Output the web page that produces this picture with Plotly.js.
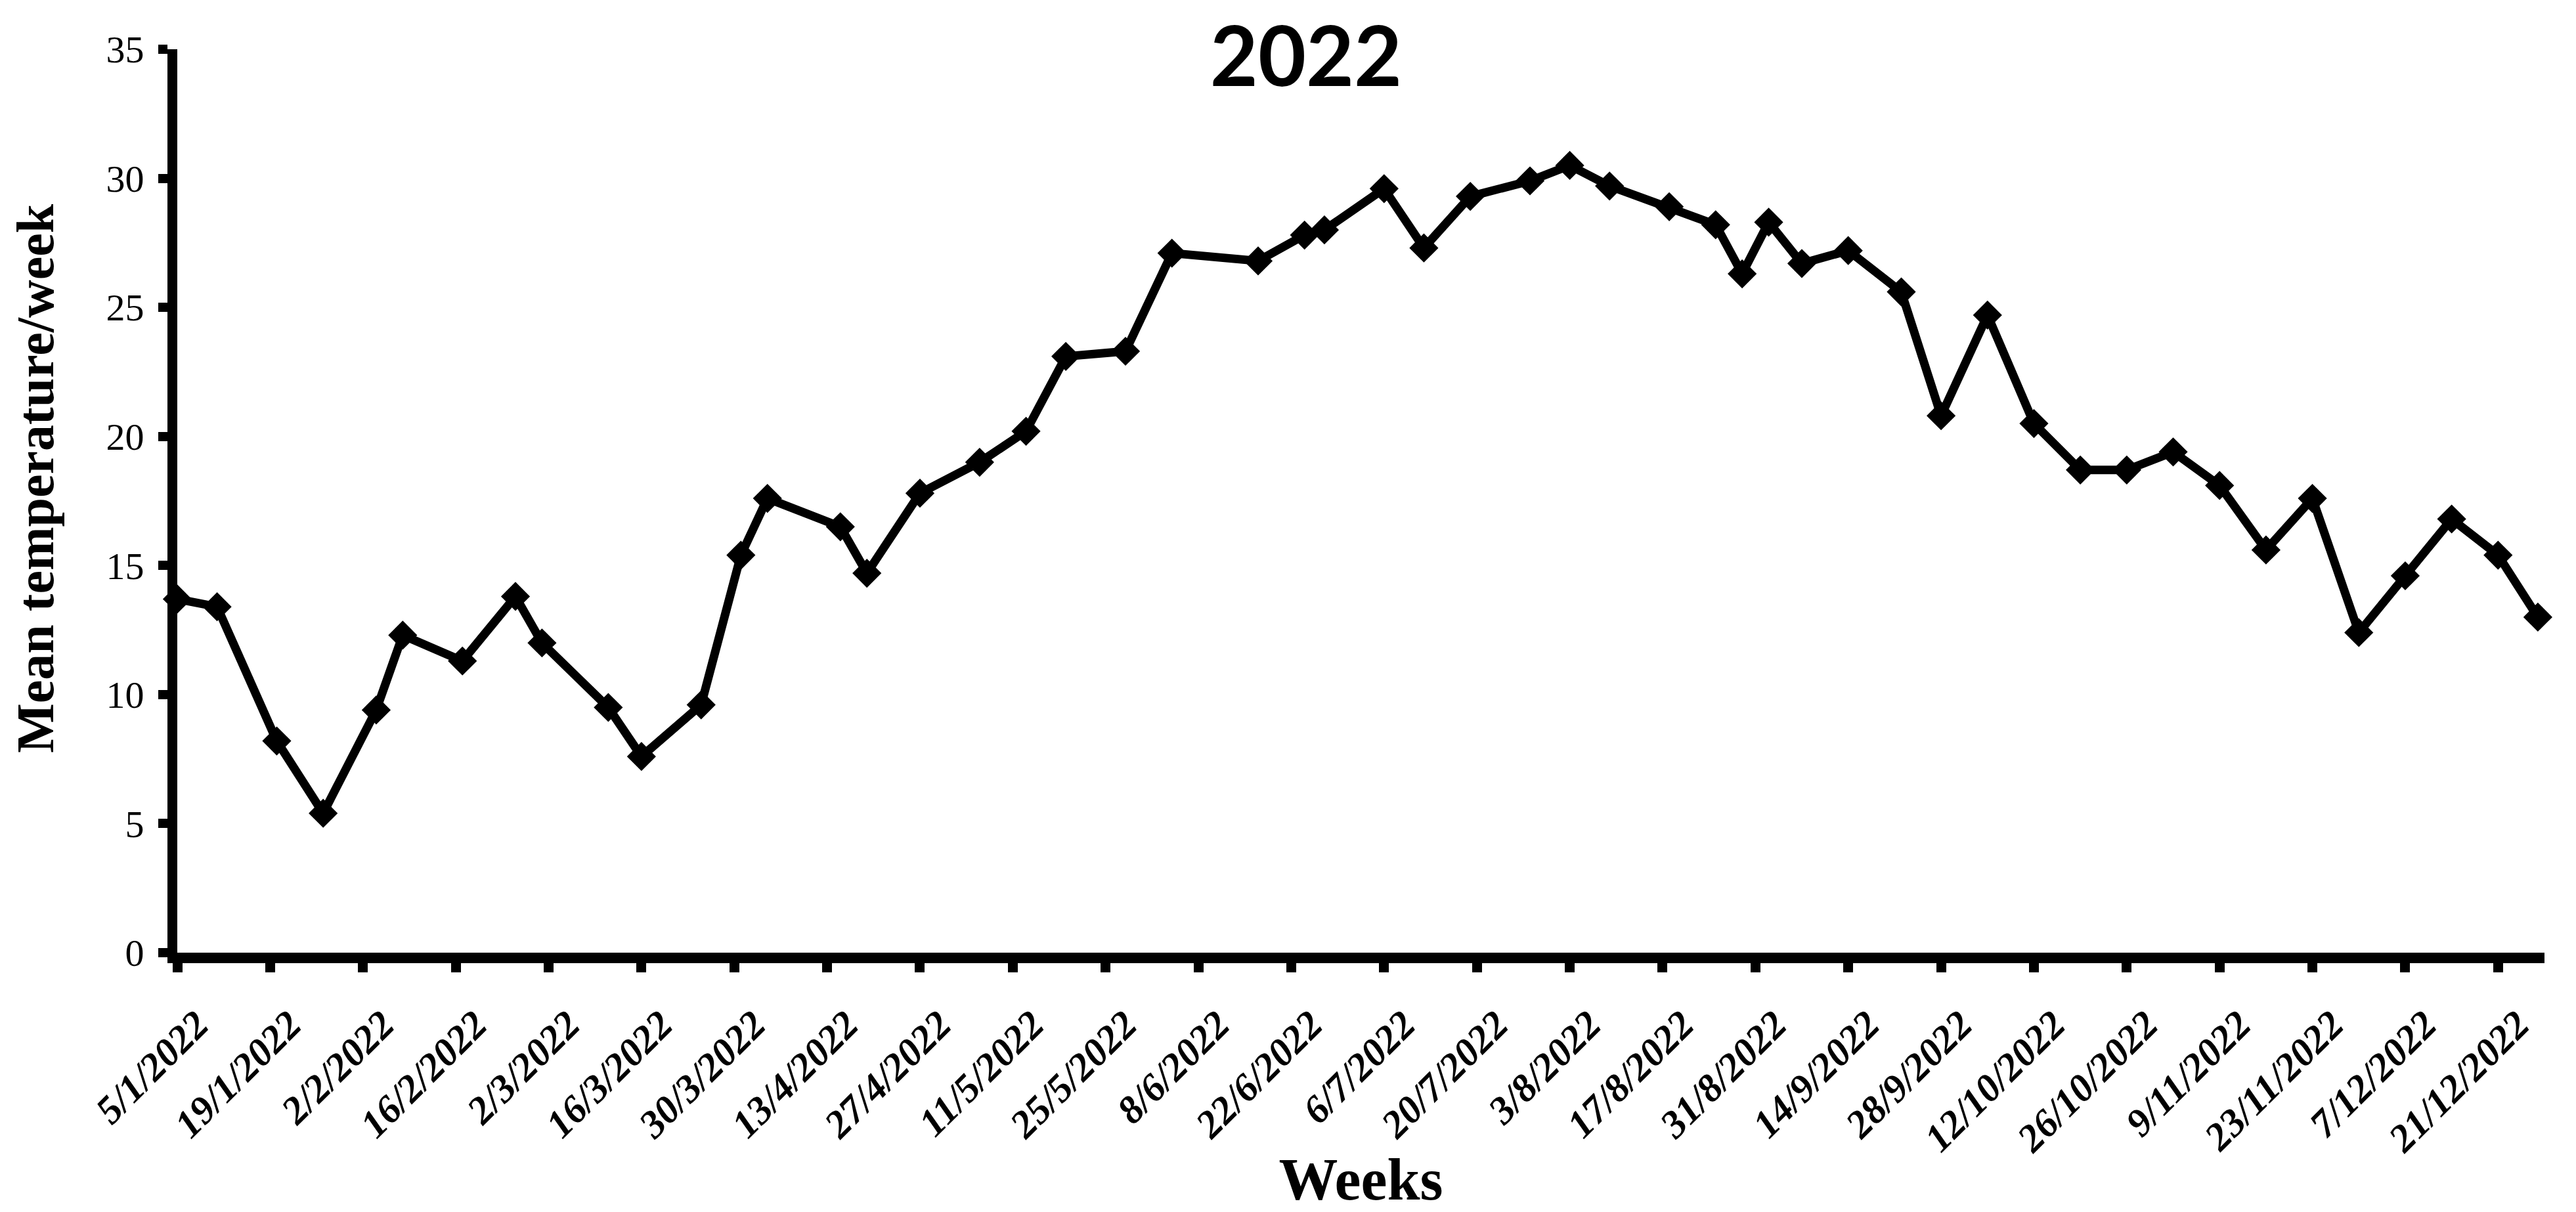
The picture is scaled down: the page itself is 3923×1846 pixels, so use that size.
<!DOCTYPE html>
<html>
<head>
<meta charset="utf-8">
<script src="https://cdn.plot.ly/plotly-3.0.1.min.js"></script>
<style>html,body{margin:0;padding:0;background:#fff;}#chart{width:3923px;height:1846px;}</style>
</head>
<body>
<div id="chart"></div>
<script>
// Week dates (x) and mean weekly temperature (y)
const weekDates = [
  "2022-01-05","2022-01-11","2022-01-20","2022-01-27","2022-02-04","2022-02-08","2022-02-17","2022-02-25",
  "2022-03-01","2022-03-11","2022-03-16","2022-03-25","2022-03-31","2022-04-04","2022-04-15","2022-04-19",
  "2022-04-27","2022-05-06","2022-05-13","2022-05-19","2022-05-28","2022-06-04","2022-06-17","2022-06-24",
  "2022-06-27","2022-07-06","2022-07-12","2022-07-19","2022-07-28","2022-08-03","2022-08-09","2022-08-18",
  "2022-08-25","2022-08-29","2022-09-02","2022-09-07","2022-09-14","2022-09-22","2022-09-28","2022-10-05",
  "2022-10-12","2022-10-19","2022-10-26","2022-11-02","2022-11-09","2022-11-16","2022-11-23","2022-11-30",
  "2022-12-07","2022-12-14","2022-12-21","2022-12-27"
];
const meanTemp = [
  13.7, 13.4, 8.2, 5.4, 9.4, 12.3, 11.3, 13.8,
  12.0, 9.5, 7.6, 9.6, 15.4, 17.6, 16.5, 14.7,
  17.8, 19.0, 20.2, 23.1, 23.3, 27.1, 26.8, 27.8,
  28.0, 29.6, 27.3, 29.3, 29.9, 30.5, 29.7, 28.9,
  28.2, 26.3, 28.3, 26.7, 27.2, 25.6, 20.8, 24.7,
  20.5, 18.7, 18.7, 19.4, 18.1, 15.6, 17.6, 12.4,
  14.6, 16.8, 15.4, 13.0
];
// X-axis tick positions and labels (every 14 days)
const tickDates = [
  "2022-01-05","2022-01-19","2022-02-02","2022-02-16","2022-03-02","2022-03-16","2022-03-30",
  "2022-04-13","2022-04-27","2022-05-11","2022-05-25","2022-06-08","2022-06-22","2022-07-06",
  "2022-07-20","2022-08-03","2022-08-17","2022-08-31","2022-09-14","2022-09-28","2022-10-12",
  "2022-10-26","2022-11-09","2022-11-23","2022-12-07","2022-12-21"
];
const tickLabels = [
  "5/1/2022","19/1/2022","2/2/2022","16/2/2022","2/3/2022","16/3/2022","30/3/2022",
  "13/4/2022","27/4/2022","11/5/2022","25/5/2022","8/6/2022","22/6/2022","6/7/2022",
  "20/7/2022","3/8/2022","17/8/2022","31/8/2022","14/9/2022","28/9/2022","12/10/2022",
  "26/10/2022","9/11/2022","23/11/2022","7/12/2022","21/12/2022"
];
const yTicks = [0, 5, 10, 15, 20, 25, 30, 35];

const trace = {
  type: 'scatter',
  mode: 'lines+markers',
  x: weekDates,
  y: meanTemp,
  line: {color: '#000', width: 13},
  marker: {symbol: 'diamond', size: 34, color: '#000'},
  cliponaxis: false,
  hoverinfo: 'x+y'
};

const serif = 'Liberation Serif, Times New Roman, serif';
const layout = {
  width: 3923, height: 1846,
  paper_bgcolor: '#fff', plot_bgcolor: '#fff',
  margin: {l: 270, r: 48, t: 75, b: 395},
  showlegend: false,
  title: {
    text: '2022',
    font: {family: 'Lato, Open Sans, sans-serif', size: 126, color: '#000', weight: 'bold'},
    xref: 'container', x: 0.507, xanchor: 'center',
    yref: 'container', y: 0.953, yanchor: 'middle'
  },
  xaxis: {
    type: 'date',
    range: ['2022-01-05', '2022-12-28'],
    tickmode: 'array', tickvals: tickDates, ticktext: tickLabels,
    tickangle: -45,
    ticklabelshift: 30, ticklabelstandoff: 20,
    ticks: 'outside', ticklen: 14, tickwidth: 15, tickcolor: '#000',
    showline: true, linecolor: '#000', linewidth: 16,
    showgrid: false, zeroline: false,
    tickfont: {family: serif, size: 60, color: '#000', weight: 'bold', style: 'italic'},
    title: {text: 'Weeks', font: {family: serif, size: 90, color: '#000', weight: 'bold'}, standoff: 10}
  },
  yaxis: {
    range: [0, 35],
    tickmode: 'array', tickvals: yTicks,
    ticks: 'outside', ticklen: 14, tickwidth: 14, tickcolor: '#000',
    ticklabelstandoff: 10,
    showline: true, linecolor: '#000', linewidth: 15,
    showgrid: false, zeroline: false,
    tickfont: {family: serif, size: 58, color: '#000'}
  },
  annotations: [{
    text: 'Mean temperature/week',
    textangle: -90,
    xref: 'paper', x: -0.06, xanchor: 'center',
    yref: 'paper', y: 0.5254, yanchor: 'middle',
    showarrow: false,
    font: {family: serif, size: 80, color: '#000', weight: 'bold'}
  }]
};

Plotly.newPlot('chart', [trace], layout, {displayModeBar: false, staticPlot: true});
</script>
</body>
</html>
